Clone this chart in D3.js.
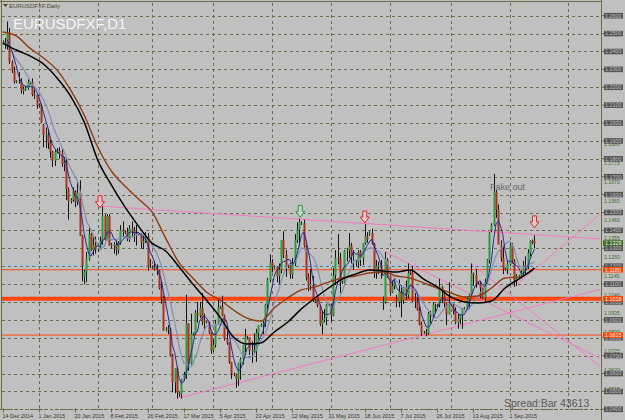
<!DOCTYPE html>
<html><head><meta charset="utf-8">
<script src="https://cdn.jsdelivr.net/npm/d3@7/dist/d3.min.js"></script>
<style>body{margin:0;background:#c0c0c0;}svg{display:block;font-family:"Liberation Sans",Arial,sans-serif}</style>
</head><body><svg id="c" width="625" height="420"></svg>
<script>
// ---- daily bars EURUSD (Sun..Fri), 14 Dec 2014 -> 14 Sep 2015 ----
const opens = [1.2450,1.2452,1.2440,1.2505,1.2340,1.2290, 1.2230,1.2235,1.2230,1.2180,1.2190,1.2195, 1.2225,1.2228,1.2160,1.2155,1.2100,1.2098,
1.1990,1.1935,1.1935,1.1890,1.1840,1.1790, 1.1840,1.1845,1.1830,1.1770,1.1780,1.1630, 1.1565,1.1570,1.1620,1.1560,1.1610,1.1370,
1.1140,1.1170,1.1240,1.1380,1.1290,1.1320, 1.1290,1.1295,1.1340,1.1480,1.1345,1.1480, 1.1315,1.1320,1.1320,1.1290,1.1330,1.1400,
1.1390,1.1392,1.1360,1.1410,1.1400,1.1380, 1.1380,1.1378,1.1330,1.1340,1.1365,1.1195, 1.1195,1.1190,1.1185,1.1175,1.1075,1.1025,
1.0845,1.0850,1.0850,1.0700,1.0550,1.0630, 1.0490,1.0485,1.0570,1.0595,1.0880,1.0655, 1.0820,1.0825,1.0940,1.0925,1.0965,1.0890,
1.0890,1.0885,1.0830,1.0730,1.0760,1.0880, 1.0970,1.0975,1.0925,1.0795,1.0775,1.0665, 1.0600,1.0595,1.0570,1.0660,1.0680,1.0760,
1.0805,1.0800,1.0730,1.0730,1.0730,1.0825, 1.0870,1.0872,1.0880,1.0985,1.1125,1.1220, 1.1195,1.1198,1.1145,1.1180,1.1345,1.1265,
1.1200,1.1205,1.1155,1.1215,1.1345,1.1405, 1.1440,1.1440,1.1315,1.1140,1.1090,1.1100, 1.1005,1.1008,1.0980,1.0875,1.0900,1.0910,
1.0985,1.0980,1.0925,1.1150,1.1245,1.1240, 1.1110,1.1112,1.1285,1.1290,1.1315,1.1255, 1.1220,1.1225,1.1280,1.1245,1.1330,1.1365,
1.1380,1.1385,1.1325,1.1165,1.1200,1.1205, 1.1000,1.1000,1.1235,1.1145,1.1055,1.1090, 1.1020,1.1000,1.1055,1.1010,1.1080,1.1040,
1.1170,1.1165,1.1005,1.1000,1.0955,1.0875, 1.0830,1.0828,1.0825,1.0935,1.0930,1.0985, 1.0980,1.0985,1.1085,1.1060,1.0990,1.0930,
1.0985,1.0980,1.0950,1.0885,1.0905,1.0925, 1.0965,1.0968,1.1015,1.1040,1.1160,1.1150, 1.1105,1.1102,1.1080,1.1025,1.1110,1.1235,
1.1400,1.1430,1.1615,1.1515,1.1320,1.1245, 1.1185,1.1182,1.1210,1.1315,1.1230,1.1120, 1.1145,1.1148,1.1165,1.1205,1.1200,1.1275,
1.1340,1.1340];
const highs = [1.2462,1.2475,1.2568,1.2530,1.2350,1.2315, 1.2240,1.2285,1.2250,1.2205,1.2205,1.2245, 1.2235,1.2250,1.2185,1.2160,1.2110,1.2110,
1.1995,1.1975,1.1965,1.1905,1.1845,1.1850, 1.1860,1.1865,1.1855,1.1810,1.1810,1.1640, 1.1580,1.1640,1.1625,1.1680,1.1680,1.1375,
1.1180,1.1280,1.1420,1.1385,1.1360,1.1365, 1.1300,1.1365,1.1535,1.1490,1.1490,1.1490, 1.1330,1.1335,1.1345,1.1340,1.1430,1.1450,
1.1400,1.1415,1.1430,1.1450,1.1420,1.1430, 1.1390,1.1385,1.1370,1.1390,1.1385,1.1240, 1.1205,1.1230,1.1210,1.1180,1.1115,1.1035,
1.0860,1.0870,1.0855,1.0710,1.0630,1.0640, 1.0500,1.0570,1.0610,1.1040,1.0880,1.0935, 1.0830,1.0955,1.1000,1.1000,1.1050,1.0935,
1.0895,1.0890,1.0830,1.0790,1.0900,1.1015, 1.0980,1.1035,1.0930,1.0840,1.0775,1.0665, 1.0605,1.0600,1.0660,1.0690,1.0760,1.0850,
1.0810,1.0800,1.0780,1.0825,1.0850,1.0870, 1.0880,1.0895,1.0990,1.1135,1.1265,1.1240, 1.1205,1.1200,1.1215,1.1345,1.1395,1.1290,
1.1210,1.1220,1.1245,1.1380,1.1445,1.1465, 1.1450,1.1460,1.1320,1.1160,1.1185,1.1145, 1.1015,1.1015,1.0985,1.0950,1.0960,1.0990,
1.0990,1.0990,1.1190,1.1290,1.1380,1.1275, 1.1120,1.1290,1.1300,1.1385,1.1330,1.1290, 1.1235,1.1290,1.1290,1.1330,1.1435,1.1390,
1.1395,1.1410,1.1330,1.1235,1.1225,1.1235, 1.1030,1.1280,1.1245,1.1150,1.1120,1.1130, 1.1040,1.1125,1.1095,1.1085,1.1120,1.1215,
1.1180,1.1200,1.1050,1.1030,1.0975,1.0890, 1.0838,1.0850,1.0945,1.0950,1.1000,1.0990, 1.0990,1.1130,1.1090,1.1065,1.0995,1.1110,
1.0990,1.0990,1.0970,1.0935,1.0930,1.0960, 1.0972,1.1025,1.1045,1.1215,1.1165,1.1185, 1.1112,1.1115,1.1080,1.1130,1.1240,1.1390,
1.1440,1.1715,1.1625,1.1545,1.1345,1.1315, 1.1192,1.1230,1.1335,1.1330,1.1240,1.1155, 1.1152,1.1175,1.1230,1.1255,1.1295,1.1345,
1.1348,1.1372];
const lows = [1.2440,1.2415,1.2410,1.2330,1.2280,1.2220, 1.2222,1.2220,1.2165,1.2160,1.2180,1.2185, 1.2215,1.2150,1.2135,1.2080,1.2088,1.2000,
1.1865,1.1860,1.1855,1.1805,1.1755,1.1760, 1.1830,1.1800,1.1755,1.1730,1.1570,1.1460, 1.1550,1.1560,1.1530,1.1540,1.1370,1.1115,
1.1098,1.1110,1.1230,1.1285,1.1260,1.1270, 1.1280,1.1290,1.1320,1.1345,1.1345,1.1315, 1.1300,1.1270,1.1260,1.1270,1.1320,1.1365,
1.1380,1.1340,1.1335,1.1365,1.1335,1.1315, 1.1372,1.1300,1.1295,1.1330,1.1175,1.1190, 1.1185,1.1175,1.1150,1.1070,1.0990,1.0840,
1.0835,1.0820,1.0695,1.0495,1.0490,1.0460, 1.0470,1.0460,1.0560,1.0570,1.0615,1.0650, 1.0812,1.0815,1.0885,1.0910,1.0870,1.0840,
1.0880,1.0820,1.0710,1.0720,1.0745,1.0880, 1.0960,1.0920,1.0785,1.0760,1.0655,1.0570, 1.0585,1.0520,1.0530,1.0565,1.0650,1.0720,
1.0790,1.0705,1.0660,1.0710,1.0665,1.0790, 1.0860,1.0820,1.0860,1.0960,1.1110,1.1165, 1.1185,1.1110,1.1100,1.1160,1.1245,1.1140,
1.1190,1.1130,1.1130,1.1200,1.1330,1.1310, 1.1430,1.1305,1.1120,1.1060,1.1065,1.1000, 1.0995,1.0970,1.0865,1.0820,1.0885,1.0870,
1.0975,1.0890,1.0920,1.1095,1.1210,1.1050, 1.1100,1.1105,1.1225,1.1245,1.1215,1.1180, 1.1200,1.1190,1.1200,1.1205,1.1320,1.1330,
1.1370,1.1320,1.1135,1.1130,1.1155,1.1130, 1.0955,1.0990,1.1135,1.1035,1.1050,1.1070, 1.0970,1.0970,1.0915,1.0990,1.1010,1.1020,
1.1150,1.1000,1.0965,1.0950,1.0870,1.0810, 1.0822,1.0808,1.0815,1.0880,1.0915,1.0940, 1.0970,1.0970,1.0995,1.0970,1.0870,1.0930,
1.0975,1.0930,1.0875,1.0850,1.0875,1.0850, 1.0958,1.0955,1.0960,1.1030,1.1090,1.1080, 1.1098,1.1020,1.1015,1.1000,1.1100,1.1215,
1.1390,1.1425,1.1470,1.1330,1.1225,1.1155, 1.1175,1.1155,1.1200,1.1215,1.1085,1.1090, 1.1135,1.1130,1.1150,1.1155,1.1185,1.1255,
1.1322,1.1300];
const closes = [1.2452,1.2440,1.2505,1.2340,1.2290,1.2230, 1.2235,1.2230,1.2180,1.2190,1.2195,1.2230, 1.2228,1.2160,1.2155,1.2100,1.2098,1.2005,
1.1935,1.1935,1.1890,1.1840,1.1790,1.1840, 1.1845,1.1830,1.1770,1.1780,1.1630,1.1565, 1.1570,1.1620,1.1560,1.1610,1.1370,1.1200,
1.1170,1.1240,1.1380,1.1290,1.1320,1.1290, 1.1295,1.1340,1.1480,1.1345,1.1480,1.1315, 1.1320,1.1320,1.1290,1.1330,1.1400,1.1390,
1.1392,1.1360,1.1410,1.1400,1.1380,1.1380, 1.1378,1.1330,1.1340,1.1365,1.1195,1.1195, 1.1190,1.1185,1.1175,1.1075,1.1025,1.0840,
1.0850,1.0850,1.0700,1.0550,1.0630,1.0495, 1.0485,1.0570,1.0595,1.0880,1.0655,1.0820, 1.0825,1.0940,1.0925,1.0965,1.0890,1.0890,
1.0885,1.0830,1.0730,1.0760,1.0880,1.0970, 1.0975,1.0925,1.0795,1.0775,1.0665,1.0600, 1.0595,1.0570,1.0660,1.0680,1.0760,1.0805,
1.0800,1.0730,1.0730,1.0730,1.0825,1.0870, 1.0872,1.0880,1.0985,1.1125,1.1220,1.1195, 1.1198,1.1145,1.1180,1.1345,1.1265,1.1200,
1.1205,1.1155,1.1215,1.1345,1.1405,1.1450, 1.1440,1.1315,1.1140,1.1090,1.1100,1.1010, 1.1008,1.0980,1.0875,1.0900,1.0910,1.0985,
1.0980,1.0925,1.1150,1.1245,1.1240,1.1110, 1.1112,1.1285,1.1290,1.1315,1.1255,1.1260, 1.1225,1.1280,1.1245,1.1330,1.1365,1.1350,
1.1385,1.1325,1.1165,1.1200,1.1205,1.1165, 1.1000,1.1235,1.1145,1.1055,1.1090,1.1110, 1.1000,1.1055,1.1010,1.1080,1.1040,1.1160,
1.1165,1.1005,1.1000,1.0955,1.0875,1.0830, 1.0828,1.0825,1.0935,1.0930,1.0985,1.0980, 1.0985,1.1085,1.1060,1.0990,1.0930,1.0985,
1.0980,1.0950,1.0885,1.0905,1.0925,1.0965, 1.0968,1.1015,1.1040,1.1160,1.1150,1.1105, 1.1102,1.1080,1.1025,1.1110,1.1235,1.1385,
1.1430,1.1615,1.1515,1.1320,1.1245,1.1185, 1.1182,1.1210,1.1315,1.1230,1.1120,1.1145, 1.1148,1.1165,1.1205,1.1200,1.1275,1.1340,
1.1330,1.1329];

// slow moving averages, one value every 6 bars (bar 0,6,...,234) plus last bar
const maBars  = [0,6,12,18,24,30,36,42,48,54,60,66,72,78,84,90,96,102,108,114,120,126,132,138,144,150,156,162,168,174,180,186,192,198,204,210,216,222,228,234,235];
const maBlack = [1.2447,1.2408,1.2375,1.2330,1.2252,1.2151,1.2006,1.1793,1.1654,1.1531,1.1424,1.1329,1.1285,1.1195,1.1100,1.1011,1.0916,1.0804,1.0765,1.0770,1.0832,1.0888,1.0961,1.1022,1.1078,1.1128,1.1156,1.1179,1.1173,1.1167,1.1179,1.1128,1.1084,1.1028,1.1000,1.0994,1.1005,1.1078,1.1128,1.1179,1.1190];
const maBrown = [1.2509,1.2487,1.2419,1.2364,1.2296,1.2185,1.2045,1.1866,1.1732,1.1648,1.1575,1.1503,1.1357,1.1218,1.1134,1.1056,1.1011,1.0955,1.0910,1.0893,1.0966,1.1022,1.1067,1.1084,1.1111,1.1134,1.1145,1.1162,1.1167,1.1145,1.1134,1.1106,1.1078,1.1050,1.1028,1.1033,1.1078,1.1134,1.1139,1.1179,1.1190];

// axis
const dateLabels = ["14 Dec 2014","1 Jan 2015","20 Jan 2015","8 Feb 2015","26 Feb 2015","17 Mar 2015","5 Apr 2015","23 Apr 2015","12 May 2015","31 May 2015","18 Jun 2015","7 Jul 2015","26 Jul 2015","13 Aug 2015","1 Sep 2015"];
const dateLabelBars = [0,16,32,48,64,80,96,112,128,144,160,176,192,208,224];
const monthStartBars = [16,42,66,93,119,145,171,198,224,250];
const priceTicks = [1.26,1.25,1.24,1.23,1.22,1.21,1.20,1.19,1.18,1.17,1.16,1.15,1.14,1.13,1.12,1.11,1.10,1.09,1.08,1.07,1.06,1.05,1.04];
const levelLabels = [1.1880,1.1775,1.1670,1.1565,1.1460,1.1355,1.1250,1.1145,1.1040,1.0935,1.0830,1.0725,1.0620,1.0515];

// drawn objects
const hLinesThin = [1.1180,1.0815];
const hLineThick = 1.1018;
const hLineBlue = 1.1203;
const bidPrice = 1.1329;
const trendLines = [ // [bar1, price1, bar2, price2]
  [44,1.1535,264,1.1352],
  [77,1.0460,264,1.1070],
  [169,1.1280,264,1.0686],
  [207,1.1215,264,1.0640],
  [226,1.1085,264,1.1490]
];
const arrowBars = [43,131.5,160,235];
const arrowTips = [1.1527,1.1473,1.1441,1.1414];
const arrowKinds = ["red","green","red","red"];

const svg = d3.select("#c");
const x = d3.scaleLinear().domain([0,224]).range([2.7,509.6]);
const y = d3.scaleLinear().domain([1.04,1.26]).range([409.3,15.7]);
const L=2, R=601, T=3, B=409.5;

svg.append("rect").attr("width",625).attr("height",420).attr("fill","#c0c0c0");
svg.append("defs").append("clipPath").attr("id","clip").append("rect").attr("x",L).attr("y",T).attr("width",R-L).attr("height",B-T);

const grid = svg.append("g").attr("stroke","#6c6c50").attr("stroke-width",1).attr("stroke-dasharray","3,3");
priceTicks.forEach(p=>{ const yy=Math.round(y(p))+0.5; grid.append("line").attr("x1",L).attr("x2",R).attr("y1",yy).attr("y2",yy);});
monthStartBars.forEach(b=>{ const xx=Math.round(x(b))+0.5; if(xx<R) grid.append("line").attr("x1",xx).attr("x2",xx).attr("y1",T).attr("y2",B);});

const plot = svg.append("g").attr("clip-path","url(#clip)");

// horizontal levels
plot.append("line").attr("x1",L).attr("x2",R).attr("y1",y(hLineBlue)).attr("y2",y(hLineBlue)).attr("stroke","#9ec3e6").attr("stroke-width",1);
hLinesThin.forEach(p=>plot.append("line").attr("x1",L).attr("x2",R).attr("y1",y(p)).attr("y2",y(p)).attr("stroke","#ff4a10").attr("stroke-width",1));
plot.append("line").attr("x1",L).attr("x2",R).attr("y1",y(hLineThick)).attr("y2",y(hLineThick)).attr("stroke","#ff4510").attr("stroke-width",4);

// trend lines
trendLines.forEach(t=>plot.append("line").attr("x1",x(t[0])).attr("y1",y(t[1])).attr("x2",x(t[2])).attr("y2",y(t[3])).attr("stroke","#f47ac4").attr("stroke-width",1));

// candles
const bars = closes.map((c,i)=>({i,o:opens[i],h:highs[i],l:lows[i],c}));
const cg = plot.append("g");
cg.selectAll("line.w").data(bars).join("line").attr("class","w")
  .attr("x1",d=>Math.round(x(d.i))+0.5).attr("x2",d=>Math.round(x(d.i))+0.5)
  .attr("y1",d=>y(d.h)).attr("y2",d=>y(d.l)).attr("stroke","#151515").attr("stroke-width",1);
cg.selectAll("rect.b").data(bars).join("rect").attr("class","b")
  .attr("x",d=>Math.round(x(d.i))-0.5).attr("width",2)
  .attr("y",d=>y(Math.max(d.o,d.c))).attr("height",d=>Math.max(1,Math.abs(y(d.o)-y(d.c))))
  .attr("fill",d=>d.c>=d.o?"#2f9a3c":"#a8321e");

// fast moving averages computed from closes
function sma(arr,n){return arr.map((v,i)=>d3.mean(arr.slice(Math.max(0,i-n+1),i+1)));}
const ma5 = sma(closes,5), ma10 = sma(closes,10);
const ln = d3.line().x(d=>x(d[0])).y(d=>y(d[1]));
plot.append("path").attr("d",ln(ma10.map((v,i)=>[i,v]).slice(2))).attr("fill","none").attr("stroke","#7f8fb0").attr("stroke-width",1.2);
plot.append("path").attr("d",ln(ma5.map((v,i)=>[i,v]).slice(2))).attr("fill","none").attr("stroke","#27279a").attr("stroke-width",1);
const lc = d3.line().x(d=>x(d[0])).y(d=>y(d[1])).curve(d3.curveMonotoneX);
plot.append("path").attr("d",lc(maBars.map((b,k)=>[b,maBrown[k]]))).attr("fill","none").attr("stroke","#8e3c12").attr("stroke-width",1.4);
plot.append("path").attr("d",lc(maBars.map((b,k)=>[b,maBlack[k]]))).attr("fill","none").attr("stroke","#000").attr("stroke-width",1.5);

// arrows
arrowBars.forEach((b,k)=>{
  const cx=x(b), ty=y(arrowTips[k]);
  const pts=[[cx-2,ty-12],[cx+2,ty-12],[cx+2,ty-6],[cx+4.5,ty-6],[cx,ty],[cx-4.5,ty-6],[cx-2,ty-6]];
  plot.append("path").attr("d","M"+pts.join("L")+"Z").attr("fill","#d4cccc")
    .attr("stroke",arrowKinds[k]==="red"?"#f02020":"#20a040").attr("stroke-width",1);
});

// texts in plot
svg.append("text").attr("x",490).attr("y",190).attr("font-size",9).attr("fill","#6a6a6a").text("Fake out");
svg.append("text").attr("x",13).attr("y",28.5).attr("font-size",15).attr("fill","#f4f4f4").text("EURUSDFXF,D1");
svg.append("path").attr("d","M3,4L8,4L5.5,7Z").attr("fill","#4a4a30");
svg.append("text").attr("x",9).attr("y",8).attr("font-size",6).attr("fill","#4a4a30").text("EURUSDFXF,Daily");
svg.append("text").attr("x",504).attr("y",407).attr("font-size",10.5).attr("fill","#5a5a5a").text("Spread:Bar 43613");

// frame
const fr = svg.append("g").attr("stroke","#6b6b3e").attr("fill","none");
fr.append("line").attr("x1",1.5).attr("x2",1.5).attr("y1",0).attr("y2",B);
fr.append("line").attr("x1",0).attr("x2",R).attr("y1",1.5).attr("y2",1.5);
fr.append("line").attr("x1",R+0.5).attr("x2",R+0.5).attr("y1",0).attr("y2",420);
fr.append("line").attr("x1",0).attr("x2",R).attr("y1",B).attr("y2",B).attr("stroke-dasharray","3,2");

// bottom axis
dateLabelBars.forEach((b,k)=>{
  const xx=Math.round(x(b))+0.5;
  svg.append("line").attr("x1",xx).attr("x2",xx).attr("y1",B-1).attr("y2",B+3).attr("stroke","#6b6b3e");
  svg.append("text").attr("x",xx-1).attr("y",417.5).attr("font-size",5.4).attr("fill","#3a3a2a").text(dateLabels[k]);
});

// right axis
const ax = svg.append("g");
const fmt = d3.format(".4f");
levelLabels.forEach(p=>ax.append("text").attr("x",604).attr("y",y(p)+1.9).attr("font-size",5.2).attr("fill","#3f6e1e").text(fmt(p)));
priceTicks.forEach(p=>{
  const yy=y(p);
  ax.append("line").attr("x1",R).attr("x2",R+3).attr("y1",yy).attr("y2",yy).attr("stroke","#6b6b3e");
  ax.append("rect").attr("x",604).attr("y",yy-2.8).attr("width",19).attr("height",5.6).attr("fill","#555");
  ax.append("text").attr("x",605).attr("y",yy+1.9).attr("font-size",5.4).attr("fill","#bdbdbd").text(fmt(p));
});
function tag(p,fill){ const yy=y(p);
  ax.append("rect").attr("x",603).attr("y",yy-2.8).attr("width",20).attr("height",5.6).attr("fill",fill);
  ax.append("text").attr("x",605).attr("y",yy+1.9).attr("font-size",5.4).attr("fill","#f0f0f0").text(fmt(p));}
hLinesThin.forEach(p=>tag(p,"#ff4500"));
tag(hLineThick,"#ff4500");
tag(bidPrice,"#3d6b2a");
</script></body></html>
